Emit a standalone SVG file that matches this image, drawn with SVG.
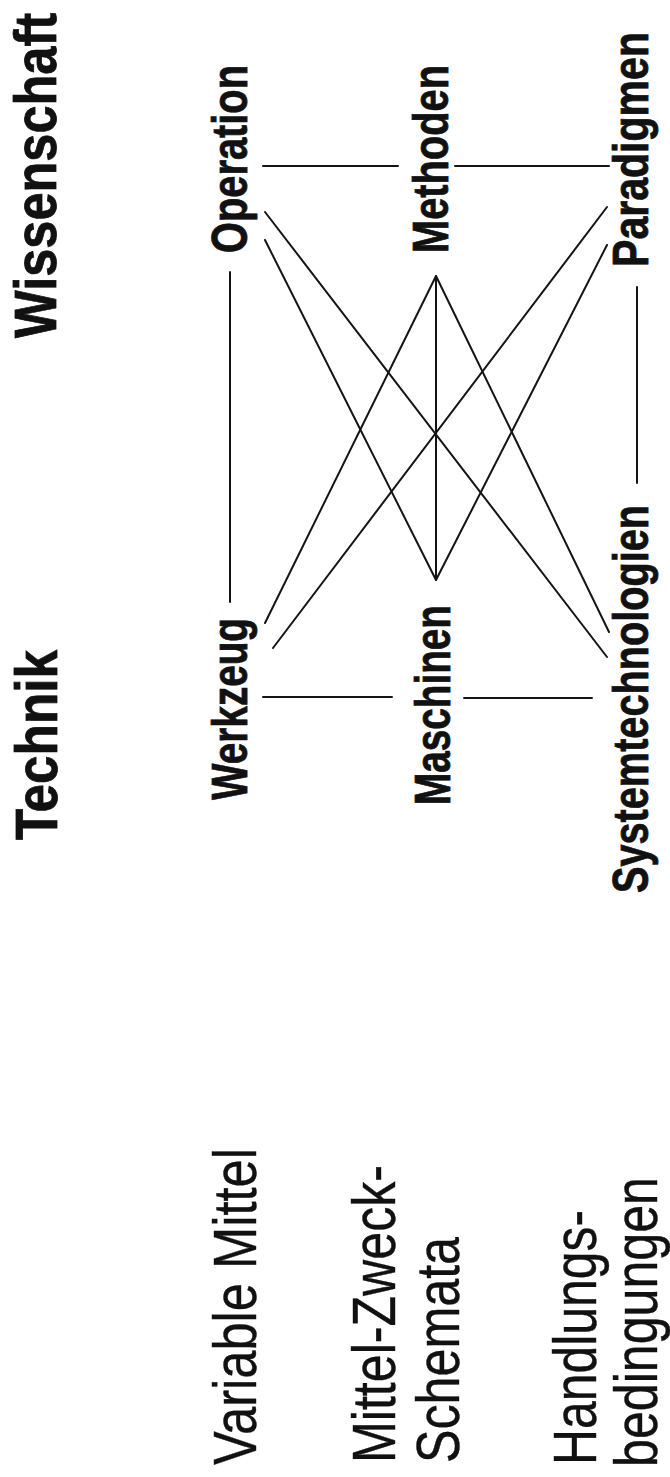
<svg xmlns="http://www.w3.org/2000/svg" width="670" height="1477" viewBox="0 0 670 1477">
  <style>
    text { font-family: "Liberation Sans", Arial, Helvetica, sans-serif; fill: #111; }
    .head { font-size: 59px; font-weight: bold; stroke: #111; stroke-width: 0.8; }
    .node { font-size: 50px; font-weight: bold; stroke: #111; stroke-width: 0.8; }
    .row  { font-size: 62px; font-weight: normal; stroke: #111; stroke-width: 0.4; }
    .link { stroke: #141414; stroke-width: 2; fill: none; stroke-linecap: round; }
  </style>

  <rect width="670" height="1477" fill="#ffffff"/>

  <!-- connectors -->
  <g id="connectors">
    <!-- pairs along the same level -->
    <line class="link" x1="263" y1="166" x2="398" y2="166"/>
    <line class="link" x1="455" y1="166" x2="609" y2="166"/>
    <line class="link" x1="263" y1="697" x2="392" y2="697"/>
    <line class="link" x1="464" y1="698" x2="592" y2="698"/>
    <!-- Operation / Werkzeug and Paradigmen / Systemtechnologien -->
    <line class="link" x1="230" y1="272" x2="230" y2="602"/>
    <line class="link" x1="637" y1="287" x2="637" y2="483"/>
    <!-- cross links -->
    <line class="link" x1="265" y1="212" x2="607" y2="657"/>
    <line class="link" x1="265" y1="240" x2="436" y2="580"/>
    <line class="link" x1="436" y1="276" x2="265" y2="623"/>
    <line class="link" x1="436" y1="276" x2="436" y2="580"/>
    <line class="link" x1="436" y1="276" x2="609" y2="632"/>
    <line class="link" x1="607" y1="207" x2="273" y2="648"/>
    <line class="link" x1="607" y1="245" x2="436" y2="580"/>
  </g>

  <!-- column headings -->
  <g id="wissenschaft">
    <text class="head" transform="translate(56,338) rotate(-90)" textLength="325" lengthAdjust="spacingAndGlyphs">Wissenschaft</text>
  </g>
  <g id="technik">
    <text class="head" transform="translate(57,840) rotate(-90)" textLength="190" lengthAdjust="spacingAndGlyphs">Technik</text>
  </g>

  <!-- science nodes -->
  <g id="operation">
    <text class="node" transform="translate(247,253) rotate(-90)" textLength="188" lengthAdjust="spacingAndGlyphs">Operation</text>
  </g>
  <g id="methoden">
    <text class="node" transform="translate(448,253) rotate(-90)" textLength="188" lengthAdjust="spacingAndGlyphs">Methoden</text>
  </g>
  <g id="paradigmen">
    <text class="node" transform="translate(648,267) rotate(-90)" textLength="235" lengthAdjust="spacingAndGlyphs">Paradigmen</text>
  </g>

  <!-- technology nodes -->
  <g id="werkzeug">
    <text class="node" transform="translate(247,800) rotate(-90)" textLength="182" lengthAdjust="spacingAndGlyphs">Werkzeug</text>
  </g>
  <g id="maschinen">
    <text class="node" transform="translate(450,805) rotate(-90)" textLength="200" lengthAdjust="spacingAndGlyphs">Maschinen</text>
  </g>
  <g id="systemtechnologien">
    <text class="node" transform="translate(648,893) rotate(-90)" textLength="388" lengthAdjust="spacingAndGlyphs">Systemtechnologien</text>
  </g>

  <!-- row captions -->
  <g id="variable-mittel">
    <text class="row" transform="translate(256,1465) rotate(-90)" textLength="317" lengthAdjust="spacingAndGlyphs">Variable Mittel</text>
  </g>
  <g id="mittel-zweck-schemata">
    <text class="row" transform="translate(395,1463) rotate(-90)" textLength="298" lengthAdjust="spacingAndGlyphs">Mittel-Zweck-</text>
    <text class="row" transform="translate(459,1463) rotate(-90)" textLength="226" lengthAdjust="spacingAndGlyphs">Schemata</text>
  </g>
  <g id="handlungsbedingungen">
    <text class="row" transform="translate(596,1465) rotate(-90)" textLength="255" lengthAdjust="spacingAndGlyphs">Handlungs-</text>
    <text class="row" transform="translate(657,1467) rotate(-90)" textLength="290" lengthAdjust="spacingAndGlyphs">bedingungen</text>
  </g>
</svg>
